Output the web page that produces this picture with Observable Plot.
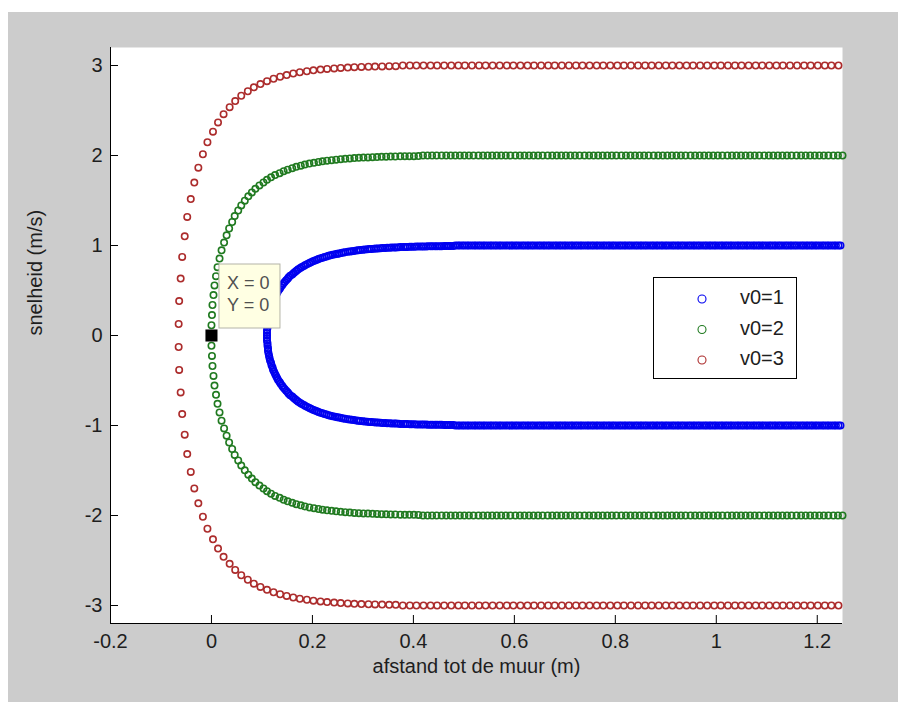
<!DOCTYPE html>
<html>
<head>
<meta charset="utf-8">
<script src="https://cdn.jsdelivr.net/npm/d3@7"></script>
<script src="https://cdn.jsdelivr.net/npm/@observablehq/plot@0.6"></script>
<style>
  html, body { margin: 0; padding: 0; background: #ffffff; }
  #fig { position: absolute; left: 8px; top: 12px; width: 890px; height: 690px; background: #cccccc; }
  #chart { position: absolute; left: 0; top: 0; }
  #legend { position: absolute; left: 653px; top: 277px; width: 142px; height: 100px;
            background: #ffffff; border: 1px solid #000000; }
</style>
</head>
<body>
<div id="fig"></div>
<div id="chart"></div>
<div id="legend"></div>
<script>
// Start speeds of the three runs and their legend entries
const speeds = [1, 2, 3];
const seriesNames = ["v0=1", "v0=2", "v0=3"];
const seriesColors = ["#0000f0", "#207a20", "#ac2c2c"];

// Axis ticks and labels
const xTicks = [-0.2, 0, 0.2, 0.4, 0.6, 0.8, 1, 1.2];
const xTickLabels = ["-0.2", "0", "0.2", "0.4", "0.6", "0.8", "1", "1.2"];
const yTicks = [-3, -2, -1, 0, 1, 2, 3];
const yTickLabels = ["-3", "-2", "-1", "0", "1", "2", "3"];
const xLabel = "afstand tot de muur (m)";
const yLabel = "snelheid (m/s)";

// Data tip
const tipX = [0];
const tipY = [0];

// v0 = 1: samples around the turning point (distance in m, speed in m/s)
const bendX1 = [
  0.110,0.110,0.110,0.111,0.111,0.112,0.112,0.113,0.114,0.115,
  0.116,0.118,0.119,0.121,0.122,0.124,0.126,0.128,0.130,0.132,
  0.135,0.137,0.140,0.142,0.145,0.148,0.151,0.153,0.156,0.160,
  0.163,0.166,0.169,0.172,0.176,0.179,0.183,0.186,0.190,0.194,
  0.197,0.201,0.205,0.209,0.212,0.216,0.220,0.224,0.228,0.232,
  0.236,0.240,0.245,0.249,0.253,0.257,0.261,0.265,0.270,0.274,
  0.278,0.282,0.287,0.291,0.295,0.300,0.304,0.309,0.313,0.317,
  0.322,0.326,0.330,0.335,0.339,0.344,0.348,0.353,0.357,0.362,
  0.366,0.371,0.375,0.380,0.384,0.388,0.393,0.397,0.402,0.406,
  0.411,0.416,0.420,0.425,0.429,0.434,0.438,0.443,0.447,0.452,
  0.456,0.461,0.465,0.470,0.474,0.479
];
const bendV1 = [
  0,0.029,0.057,0.085,0.114,0.142,0.170,0.197,0.224,0.251,
  0.278,0.304,0.330,0.355,0.380,0.404,0.427,0.450,0.473,0.495,
  0.516,0.537,0.557,0.576,0.595,0.613,0.630,0.647,0.664,0.679,
  0.694,0.709,0.723,0.736,0.749,0.761,0.773,0.784,0.795,0.805,
  0.815,0.824,0.833,0.842,0.850,0.858,0.865,0.872,0.879,0.885,
  0.891,0.897,0.902,0.907,0.912,0.917,0.921,0.926,0.930,0.933,
  0.937,0.940,0.944,0.947,0.949,0.952,0.955,0.957,0.960,0.962,
  0.964,0.966,0.968,0.969,0.971,0.973,0.974,0.976,0.977,0.978,
  0.979,0.981,0.982,0.983,0.984,0.984,0.985,0.986,0.987,0.988,
  0.988,0.989,0.990,0.990,0.991,0.991,0.992,0.992,0.993,0.993,
  0.993,0.994,0.994,0.994,0.995,0.995
];
// v0 = 1: samples travelling at full speed
const runX1 = [
  0.483,0.488,0.492,0.497,0.501,0.506,0.510,0.515,0.520,0.524,
  0.529,0.533,0.538,0.542,0.547,0.552,0.556,0.561,0.565,0.570,
  0.574,0.579,0.584,0.588,0.593,0.597,0.602,0.606,0.611,0.616,
  0.620,0.625,0.629,0.634,0.638,0.643,0.648,0.652,0.657,0.661,
  0.666,0.670,0.675,0.680,0.684,0.689,0.693,0.698,0.702,0.707,
  0.712,0.716,0.721,0.725,0.730,0.734,0.739,0.744,0.748,0.753,
  0.757,0.762,0.766,0.771,0.776,0.780,0.785,0.789,0.794,0.798,
  0.803,0.808,0.812,0.817,0.821,0.826,0.830,0.835,0.840,0.844,
  0.849,0.853,0.858,0.862,0.867,0.872,0.876,0.881,0.885,0.890,
  0.894,0.899,0.903,0.908,0.913,0.917,0.922,0.926,0.931,0.935,
  0.940,0.945,0.949,0.954,0.958,0.963,0.967,0.972,0.977,0.981,
  0.986,0.990,0.995,0.999,1.004,1.009,1.013,1.018,1.022,1.027,
  1.031,1.036,1.041,1.045,1.050,1.054,1.059,1.063,1.068,1.073,
  1.077,1.082,1.086,1.091,1.095,1.100,1.105,1.109,1.114,1.118,
  1.123,1.127,1.132,1.137,1.141,1.146,1.150,1.155,1.159,1.164,
  1.169,1.173,1.178,1.182,1.187,1.191,1.196,1.200,1.205,1.210,
  1.214,1.219,1.223,1.228,1.233,1.237,1.242,1.246
];

// v0 = 2
const bendX2 = [
  0.000,0.000,0.001,0.002,0.004,0.006,0.009,0.012,0.016,0.020,
  0.025,0.030,0.035,0.041,0.046,0.053,0.059,0.066,0.073,0.080,
  0.087,0.095,0.103,0.110,0.118,0.126,0.135,0.143,0.151,0.160,
  0.168,0.177,0.185,0.194,0.203,0.212,0.220,0.229,0.238,0.247,
  0.256,0.265,0.274,0.283,0.292,0.301,0.310,0.319,0.328,0.337,
  0.346,0.355,0.364,0.374,0.383,0.392,0.401,0.410
];
const bendV2 = [
  0,0.114,0.227,0.339,0.449,0.556,0.659,0.759,0.855,0.946,
  1.032,1.113,1.189,1.261,1.327,1.389,1.445,1.498,1.546,1.590,
  1.630,1.667,1.700,1.730,1.757,1.782,1.804,1.825,1.843,1.859,
  1.874,1.887,1.899,1.910,1.919,1.928,1.935,1.942,1.948,1.954,
  1.959,1.963,1.967,1.971,1.974,1.977,1.979,1.981,1.983,1.985,
  1.987,1.988,1.989,1.991,1.992,1.993,1.993,1.994
];
const runX2 = [
  0.419,0.428,0.437,0.446,0.456,0.465,0.474,0.483,0.492,0.501,
  0.510,0.519,0.529,0.538,0.547,0.556,0.565,0.574,0.583,0.592,
  0.602,0.611,0.620,0.629,0.638,0.647,0.656,0.666,0.675,0.684,
  0.693,0.702,0.711,0.720,0.729,0.739,0.748,0.757,0.766,0.775,
  0.784,0.793,0.802,0.812,0.821,0.830,0.839,0.848,0.857,0.866,
  0.876,0.885,0.894,0.903,0.912,0.921,0.930,0.939,0.949,0.958,
  0.967,0.976,0.985,0.994,1.003,1.012,1.022,1.031,1.040,1.049,
  1.058,1.067,1.076,1.085,1.095,1.104,1.113,1.122,1.131,1.140,
  1.149,1.159,1.168,1.177,1.186,1.195,1.204,1.213,1.222,1.232,
  1.241,1.250
];

// v0 = 3
const bendX3 = [
  -0.065,-0.064,-0.061,-0.058,-0.053,-0.048,-0.041,-0.034,-0.026,-0.017,
  -0.008,0.003,0.013,0.024,0.036,0.047,0.059,0.072,0.084,0.097,
  0.110,0.123,0.136,0.149,0.162,0.175,0.189,0.202,0.216,0.229,
  0.243,0.256,0.270,0.283,0.297,0.311,0.324,0.338,0.352,0.365
];
const bendV3 = [
  0.128,0.383,0.632,0.873,1.102,1.317,1.516,1.699,1.865,2.014,
  2.147,2.265,2.368,2.459,2.537,2.605,2.664,2.714,2.758,2.794,
  2.826,2.853,2.875,2.894,2.911,2.925,2.936,2.946,2.955,2.962,
  2.968,2.973,2.977,2.981,2.984,2.986,2.988,2.990,2.992,2.993
];
const runX3 = [
  0.379,0.393,0.406,0.420,0.434,0.447,0.461,0.475,0.489,0.502,
  0.516,0.530,0.543,0.557,0.571,0.585,0.598,0.612,0.626,0.639,
  0.653,0.667,0.680,0.694,0.708,0.722,0.735,0.749,0.763,0.776,
  0.790,0.804,0.817,0.831,0.845,0.859,0.872,0.886,0.900,0.913,
  0.927,0.941,0.954,0.968,0.982,0.996,1.009,1.023,1.037,1.050,
  1.064,1.078,1.091,1.105,1.119,1.132,1.146,1.160,1.174,1.187,
  1.201,1.215,1.228,1.242
];

// Each run goes in toward the wall (negative speed) and comes back out
// along the same path (positive speed).
const runs = [
  {name: seriesNames[0], speed: speeds[0], bendX: bendX1, bendV: bendV1, runX: runX1},
  {name: seriesNames[1], speed: speeds[1], bendX: bendX2, bendV: bendV2, runX: runX2},
  {name: seriesNames[2], speed: speeds[2], bendX: bendX3, bendV: bendV3, runX: runX3}
];
const points = [];
for (const r of runs) {
  r.bendX.forEach((x, i) => {
    const v = r.bendV[i];
    if (v === 0) points.push({series: r.name, x, v: 0});
    else {
      points.push({series: r.name, x, v: -v});
      points.push({series: r.name, x, v: v});
    }
  });
  r.runX.forEach(x => {
    points.push({series: r.name, x, v: -r.speed});
    points.push({series: r.name, x, v: r.speed});
  });
}
const tips = tipX.map((x, i) => ({x, y: tipY[i]}));

const W = 898, H = 702;
const mL = 110, mR = 56, mT = 47, mB = 79;
const frameW = W - mL - mR, frameH = H - mT - mB;
const tickLen = 8;
const font = "'Liberation Sans', Arial, Helvetica, sans-serif";

const chart = Plot.plot({
  width: W,
  height: H,
  marginLeft: mL,
  marginRight: mR,
  marginTop: mT,
  marginBottom: mB,
  x: {domain: [-0.2, 1.25]},
  y: {domain: [-3.2, 3.2]},
  color: {domain: seriesNames, range: seriesColors},
  style: {background: "transparent", fontFamily: font, fontSize: "20px", color: "#1e1e1e", overflow: "visible"},
  marks: [
    Plot.frame({fill: "white", stroke: "none"}),
    Plot.dot(points, {x: "x", y: "v", stroke: "series", r: 3.2, strokeWidth: 1.6}),
    Plot.dot(tips, {x: "x", y: "y", symbol: "square", fill: "black", stroke: "none", r: 6.8}),
    Plot.ruleX([-0.2], {stroke: "black", strokeWidth: 1}),
    Plot.ruleY([-3.2], {stroke: "black", strokeWidth: 1}),
    Plot.tickX(xTicks, {x: d => d, stroke: "black", insetTop: frameH - tickLen}),
    Plot.tickY(yTicks, {y: d => d, stroke: "black", insetRight: frameW - tickLen}),
    Plot.axisX(xTicks, {tickSize: 0, tickPadding: 10, label: null,
      tickFormat: d => xTickLabels[xTicks.indexOf(d)]}),
    Plot.axisY(yTicks, {tickSize: 0, tickPadding: 8, label: null,
      tickFormat: d => yTickLabels[yTicks.indexOf(d)]}),
    Plot.text([xLabel], {text: d => d, frameAnchor: "bottom", dy: 49, fontSize: 20}),
    Plot.text([yLabel], {text: d => d, frameAnchor: "left", dx: -75, rotate: -90, fontSize: 20})
  ]
});
document.getElementById("chart").appendChild(chart);

// Data tip box next to the marked sample
const sx = chart.scale("x"), sy = chart.scale("y");
tips.forEach(t => {
  const px = sx.apply(t.x), py = sy.apply(t.y);
  const g = d3.select(chart).append("g").attr("text-anchor", "start");
  g.append("rect")
    .attr("x", px + 8).attr("y", py - 71)
    .attr("width", 61).attr("height", 64)
    .attr("fill", "#ffffe3").attr("stroke", "#b4b4a8").attr("stroke-width", 1);
  [`X = ${t.x}`, `Y = ${t.y}`].forEach((s, i) => {
    g.append("text")
      .attr("x", px + 16).attr("y", py - 51 + i * 22)
      .attr("text-anchor", "start")
      .attr("dominant-baseline", "middle")
      .attr("font-family", font).attr("font-size", 18)
      .attr("fill", "#505050")
      .text(s);
  });
});

// Legend
const leg = d3.select("#legend").append("svg").attr("width", 142).attr("height", 100);
seriesNames.forEach((name, i) => {
  const cy = 21 + i * 30.5;
  leg.append("circle").attr("cx", 48).attr("cy", cy).attr("r", 4)
    .attr("fill", "none").attr("stroke", seriesColors[i]).attr("stroke-width", 1.1);
  leg.append("text").attr("x", 86).attr("y", cy).attr("dominant-baseline", "middle")
    .attr("font-family", font).attr("font-size", 20).attr("fill", "#1e1e1e").text(name);
});
</script>
</body>
</html>
